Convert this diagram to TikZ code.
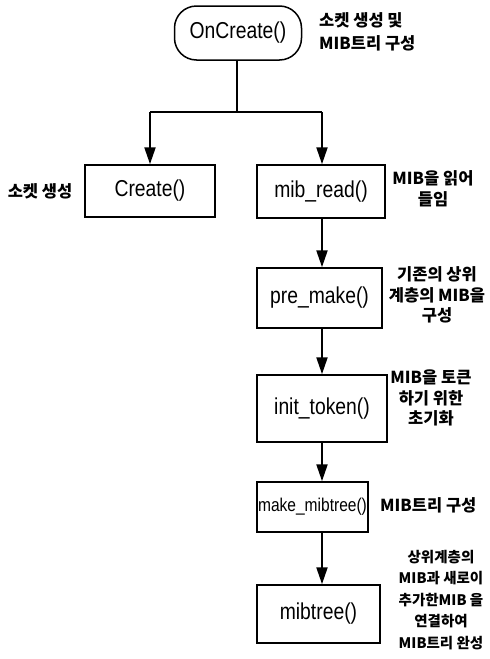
\documentclass[tikz,border=0pt]{standalone}
\usepackage{fontspec}
\setmainfont[FakeStretch=0.84]{Liberation Sans}
\newfontfamily\kr{Noto Sans CJK KR Black}
\usetikzlibrary{arrows.meta}
\tikzset{
  fn/.style={draw, line width=1.5pt, inner sep=0pt, font=\fontsize{23}{26}\selectfont},
  note/.style={font=\kr\fontsize{16.5}{20.5}\selectfont, inner sep=0pt, align=center},
  smallnote/.style={note, font=\kr\fontsize{14.5}{21.5}\selectfont},
  conn/.style={line width=2.2pt},
  arr/.style={line width=2.2pt, -{Triangle[length=17pt,width=11pt]}}
}
\begin{document}
\begin{tikzpicture}[x=1pt,y=-1pt]
\useasboundingbox (0,0) rectangle (490,659);
\fill[white] (0,0) rectangle (490,659);
% function boxes
\node[fn, rounded corners=22pt, minimum width=127pt, minimum height=54pt] (on) at (238,33) {OnCreate()};
\node[fn, minimum width=130pt, minimum height=52pt] (create) at (150,191) {Create()};
\node[fn, minimum width=128pt, minimum height=53pt] (mibread) at (321,191.5) {mib\_read()};
\node[fn, minimum width=125pt, minimum height=60pt] (premake) at (319.5,298) {pre\_make()};
\node[fn, minimum width=130pt, minimum height=67pt] (inittoken) at (322,408.5) {init\_token()};
\node[fn, minimum width=111pt, minimum height=50pt, font=\fontsize{18.5}{21}\selectfont] (makemib) at (312.5,507) {make\_mibtree()};
\node[fn, minimum width=123pt, minimum height=58pt] (mibtree) at (318.5,614) {mibtree()};
% notes
\node[note, align=left, anchor=west, font=\kr\fontsize{16.5}{23}\selectfont] (n0) at (319,31.5) {소켓 생성 및\\MIB트리 구성};
\node[note] (n1) at (40,191) {소켓 생성};
\node[note] (n2) at (433,189) {MIB을 읽어\\들임};
\node[note] (n3) at (437,295) {기존의 상위\\계층의 MIB을\\구성};
\node[note] (n4) at (431,398) {MIB을 토큰\\하기 위한\\초기화};
\node[note, anchor=west] (n5) at (380,505) {MIB트리 구성};
\node[smallnote] (n6) at (441,600) {상위계층의\\MIB과 새로이\\추가한MIB 을\\연결하여\\MIB트리 완성};
% connectors
\coordinate (j) at (237,112);
\coordinate (jl) at (150,112);
\coordinate (jr) at (322,112);
\coordinate (col) at (322,0);
\draw[conn] (on.south -| j) -- (j);
\draw[conn] (jl) -- (jr);
\draw[arr] (jl) -- (jl |- create.north);
\draw[arr] (jr) -- (jr |- mibread.north);
\draw[arr] (mibread.south -| col) -- (premake.north -| col);
\draw[arr] (premake.south -| col) -- (inittoken.north -| col);
\draw[arr] (inittoken.south -| col) -- (makemib.north -| col);
\draw[arr] (makemib.south -| col) -- (mibtree.north -| col);
\end{tikzpicture}
\end{document}
